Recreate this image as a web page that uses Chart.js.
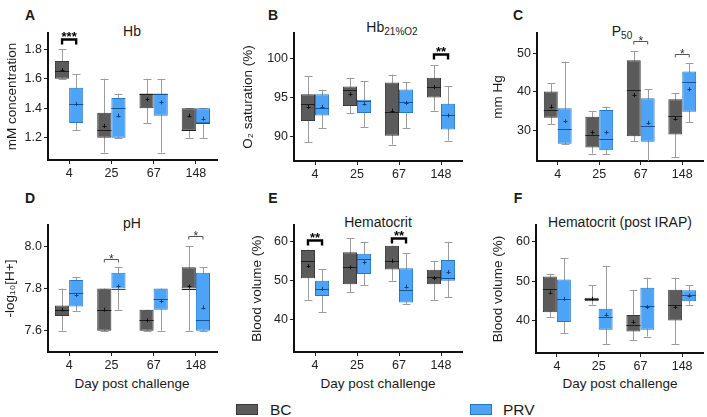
<!DOCTYPE html>
<html><head><meta charset="utf-8">
<script src="https://cdn.jsdelivr.net/npm/chart.js@4/dist/chart.umd.min.js"></script>
<style>
body{margin:0;width:707px;height:417px;background:#fff;position:relative;overflow:hidden;font-family:"Liberation Sans",Arial,sans-serif}
canvas.cv{position:absolute}
.t{position:absolute;transform:translate(-50%,-50%);white-space:nowrap;color:#1a1a1a}
.ttl{font-size:14px}
.lt{font-size:14px;font-weight:bold}
.xt{font-size:13.5px}
.lg{position:absolute;width:22px;height:11px;box-sizing:border-box}
.lgt{position:absolute;font-size:15.5px;color:#1a1a1a;transform:translateY(-50%)}
sub{font-size:10px;vertical-align:-3px}
</style></head><body>
<div class="t lt" style="left:30px;top:15px">A</div>
<div class="t lt" style="left:273px;top:15px">B</div>
<div class="t lt" style="left:518px;top:15px">C</div>
<div class="t lt" style="left:30px;top:198px">D</div>
<div class="t lt" style="left:273px;top:198px">E</div>
<div class="t lt" style="left:518px;top:198px">F</div>
<div class="t ttl" style="left:132px;top:31px">Hb</div>
<div class="t ttl" style="left:392px;top:28px">Hb<sub>21%O2</sub></div>
<div class="t ttl" style="left:622px;top:32px">P<sub>50</sub></div>
<div class="t ttl" style="left:132px;top:223px">pH</div>
<div class="t ttl" style="left:378px;top:222px">Hematocrit</div>
<div class="t ttl" style="left:620px;top:222px">Hematocrit (post IRAP)</div>
<div class="t xt" style="left:132px;top:383px">Day post challenge</div>
<div class="t xt" style="left:378px;top:383px">Day post challenge</div>
<div class="t xt" style="left:620px;top:383px">Day post challenge</div>
<div class="lg" style="left:236px;top:404px;background:#5b5b5b;border:1px solid #3a3a3a"></div>
<div class="lgt" style="left:270px;top:410px">BC</div>
<div class="lg" style="left:470px;top:404px;background:#4da3f5;border:1px solid #2a78c0"></div>
<div class="lgt" style="left:503px;top:410px">PRV</div>
<script>
// ---------- DATA ----------
const categories = ['4', '25', '67', '148'];
const seriesNames = ['BC', 'PRV'];
// each row: [min, q1, median, q3, max, mean]
const hbBC   = [[1.60,1.60,1.65,1.72,1.80,1.66],[1.10,1.20,1.25,1.37,1.60,1.28],[1.30,1.40,1.50,1.50,1.60,1.46],[1.20,1.25,1.25,1.40,1.40,1.35]];
const hbPRV  = [[1.25,1.30,1.43,1.54,1.63,1.43],[1.20,1.20,1.40,1.47,1.50,1.35],[1.10,1.35,1.50,1.50,1.60,1.44],[1.20,1.30,1.30,1.40,1.40,1.33]];
const satBC  = [[89.3,92.0,94.1,95.4,97.7,93.8],[93.0,93.9,95.9,96.4,97.5,95.4],[89.0,90.1,93.1,96.9,97.9,93.3],[93.3,95.0,96.3,97.5,99.1,96.3]];
const satPRV = [[91.1,92.7,93.6,95.4,96.0,93.8],[91.2,93.0,94.6,94.7,97.1,94.2],[91.1,93.0,94.4,96.0,96.9,94.3],[89.5,90.9,92.7,94.2,96.4,92.7]];
const p50BC  = [[31.5,33.2,35.2,40.0,42.2,36.1],[23.9,25.5,28.7,33.5,34.9,29.4],[27.1,28.4,40.4,48.1,50.5,39.1],[23.0,28.9,33.6,38.0,39.6,33.0]];
const p50PRV = [[26.3,26.5,30.2,35.7,47.8,32.3],[23.7,24.8,27.8,35.2,36.1,29.4],[18.0,27.0,31.0,38.3,40.6,31.9],[32.0,34.8,42.4,45.2,47.4,40.6]];
const phBC   = [[7.60,7.67,7.70,7.72,7.80,7.70],[7.60,7.60,7.70,7.80,7.80,7.70],[7.60,7.60,7.65,7.70,7.70,7.65],[7.60,7.80,7.80,7.90,8.00,7.81]];
const phPRV  = [[7.695,7.715,7.78,7.84,7.855,7.77],[7.70,7.80,7.80,7.875,7.90,7.81],[7.60,7.70,7.75,7.80,7.80,7.74],[7.60,7.60,7.65,7.875,7.90,7.71]];
const hctBC  = [[45.1,50.6,55.1,57.9,58.0,53.8],[47.0,49.1,53.4,57.3,61.0,53.4],[50.0,52.9,55.1,59.0,59.0,55.1],[45.1,49.1,50.9,52.8,55.1,50.6]];
const hctPRV = [[42.0,46.1,47.9,50.0,52.9,47.9],[48.9,51.7,55.5,56.9,60.0,54.7],[44.0,44.4,47.5,53.2,57.0,48.5],[45.8,50.0,50.6,55.3,60.0,52.2]];
const irapBC = [[40.9,42.1,47.9,51.2,51.9,47.1],[44.0,44.9,45.5,45.8,48.9,45.5],[34.9,37.2,38.9,41.4,47.8,39.6],[33.9,40.0,44.0,47.8,50.9,43.4]];
const irapPRV= [[36.8,39.6,45.5,50.4,55.9,45.5],[33.9,37.6,40.9,43.0,53.9,41.5],[35.9,37.6,43.6,48.3,50.9,43.4],[44.0,44.9,46.4,47.7,48.9,46.3]];
// tick labels
const hbTicks = [1.2, 1.4, 1.6, 1.8];
const satTicks = [90, 95, 100];
const p50Ticks = [30, 40, 50];
const phTicks = [7.6, 7.8, 8.0];
const hctTicks = [40, 50, 60];
const irapTicks = [40, 50, 60];
// significance brackets: [category index, value level, label]
const hbSig = [[0, 1.868, '***']];
const satSig = [[3, 100.5, '**']];
const p50Sig = [[2, 53.0, '*'], [3, 49.8, '*']];
const phSig = [[1, 7.94, '*'], [3, 8.047, '*']];
const hctSig = [[0, 60.4, '**'], [2, 61.0, '**']];
const irapSig = [];

// ---------- STYLE / LAYOUT ----------
const FONT = '"Liberation Sans", Arial, sans-serif';
const fills = ['#5b5b5b', '#4da3f5'];
const borders = ['#3a3a3a', '#2a78c0'];
const medCol = ['#1e1e1e', '#1b5490'];
const meanCol = ['#111111', '#123f70'];

const boxPlugin = {
  id: 'boxExtras',
  beforeDatasetsDraw(chart) {
    const o = chart.options.plugins.boxExtras;
    const ctx = chart.ctx, ys = chart.scales.y, ca = chart.chartArea;
    ctx.save();
    ctx.beginPath(); ctx.rect(ca.left, ca.top, ca.right - ca.left, ca.bottom - ca.top); ctx.clip();
    ctx.strokeStyle = '#9c9c9c'; ctx.lineWidth = 1;
    o.stats.forEach((st, di) => {
      chart.getDatasetMeta(di).data.forEach((el, i) => {
        const r = st[i]; const x = Math.round(el.x) + 0.5; const cw = el.width * 0.28;
        const yMin = ys.getPixelForValue(r[0]), yMax = ys.getPixelForValue(r[4]);
        ctx.beginPath();
        ctx.moveTo(x, yMin); ctx.lineTo(x, yMax);
        ctx.moveTo(x - cw, Math.round(yMin) + 0.5); ctx.lineTo(x + cw, Math.round(yMin) + 0.5);
        ctx.moveTo(x - cw, Math.round(yMax) + 0.5); ctx.lineTo(x + cw, Math.round(yMax) + 0.5);
        ctx.stroke();
      });
    });
    ctx.restore();
  },
  afterDatasetsDraw(chart) {
    const o = chart.options.plugins.boxExtras;
    const ctx = chart.ctx, ys = chart.scales.y;
    ctx.save();
    o.stats.forEach((st, di) => {
      chart.getDatasetMeta(di).data.forEach((el, i) => {
        const r = st[i]; const hw = el.width / 2;
        const ym = Math.round(ys.getPixelForValue(r[2])) + 0.5;
        ctx.strokeStyle = medCol[di]; ctx.lineWidth = 1;
        ctx.beginPath(); ctx.moveTo(el.x - hw, ym); ctx.lineTo(el.x + hw, ym); ctx.stroke();
        const yA = ys.getPixelForValue(r[5]); const xc = Math.round(el.x) + 0.5;
        ctx.strokeStyle = meanCol[di];
        ctx.beginPath();
        ctx.moveTo(xc - 2, Math.round(yA) + 0.5); ctx.lineTo(xc + 2, Math.round(yA) + 0.5);
        ctx.moveTo(xc, yA - 2); ctx.lineTo(xc, yA + 2);
        ctx.stroke();
      });
    });
    o.sig.forEach(s => {
      const a = chart.getDatasetMeta(0).data[s[0]], b = chart.getDatasetMeta(1).data[s[0]];
      const y = Math.round(ys.getPixelForValue(s[1])) + 0.5;
      const strong = s[2].length > 1;
      ctx.strokeStyle = strong ? '#000' : '#555';
      ctx.lineWidth = strong ? 2.4 : 1;
      const leg = strong ? 5 : 3;
      ctx.beginPath();
      ctx.moveTo(a.x, y + leg); ctx.lineTo(a.x, y); ctx.lineTo(b.x, y); ctx.lineTo(b.x, y + leg);
      ctx.stroke();
      ctx.fillStyle = strong ? '#000' : '#333';
      ctx.font = (strong ? 'bold 13px ' : '12px ') + FONT;
      ctx.textAlign = 'center'; ctx.textBaseline = 'alphabetic';
      ctx.fillText(s[2], (a.x + b.x) / 2, y + (strong ? 1 : 3));
    });
    ctx.restore();
  }
};

function makePanel(cfg) {
  const c = document.createElement('canvas');
  c.className = 'cv'; c.width = cfg.w; c.height = 190;
  c.style.left = cfg.left + 'px'; c.style.top = cfg.top + 'px';
  c.style.width = cfg.w + 'px'; c.style.height = '190px';
  document.body.appendChild(c);
  const ticks = cfg.ticks;
  const gridOpts = { display: true, drawOnChartArea: false, drawTicks: true, tickLength: 4, color: '#222', offset: false };
  new Chart(c, {
    type: 'bar',
    data: {
      labels: categories,
      datasets: [cfg.bc, cfg.prv].map((st, di) => ({
        label: seriesNames[di],
        data: st.map(r => [r[1], r[3]]),
        backgroundColor: fills[di], borderColor: borders[di], borderWidth: 1, borderSkipped: false,
        categoryPercentage: 0.67, barPercentage: 1.0
      }))
    },
    options: {
      responsive: false, animation: false, devicePixelRatio: 1,
      layout: { padding: { left: 0, right: cfg.pr, top: cfg.pt, bottom: cfg.pb } },
      plugins: { legend: { display: false }, tooltip: { enabled: false }, boxExtras: { stats: [cfg.bc, cfg.prv], sig: cfg.sig } },
      scales: {
        x: {
          type: 'category', offset: true,
          grid: gridOpts, border: { display: true, color: '#111', width: 2 },
          ticks: { font: { size: 12.5, family: FONT }, color: '#222', padding: 2, maxRotation: 0 },
          afterFit(s) { s.height = 25; }
        },
        y: {
          min: cfg.min, max: cfg.max,
          grid: gridOpts, border: { display: true, color: '#111', width: 2 },
          ticks: { font: { size: 12.5, family: FONT }, color: '#222', padding: 2,
                   callback: v => v.toFixed(cfg.dec) },
          afterBuildTicks(s) { s.ticks = ticks.map(v => ({ value: v })); },
          title: { display: true, text: cfg.title, color: '#1a1a1a', font: { size: 13.5, family: FONT },
                   padding: { top: cfg.tp, bottom: 0 } },
          afterFit(s) { s.width = cfg.yw; }
        }
      }
    },
    plugins: [boxPlugin]
  });
}

makePanel({ left: 0,   top: 0,   w: 235, yw: 48, pr: 18, pt: 33, pb: 5, min: 1.05, max: 1.91, dec: 1, ticks: hbTicks,  title: 'mM concentration',  tp: 4,  bc: hbBC,   prv: hbPRV,   sig: hbSig });
makePanel({ left: 235, top: 0,   w: 235, yw: 59, pr: 8,  pt: 33, pb: 4, min: 86.9, max: 103.2, dec: 0, ticks: satTicks, title: 'O\u2082 saturation (%)', tp: 5, bc: satBC, prv: satPRV, sig: satSig });
makePanel({ left: 470, top: 0,   w: 237, yw: 67, pr: 4,  pt: 33, pb: 4, min: 22.0, max: 55.2, dec: 0, ticks: p50Ticks, title: 'mm Hg',             tp: 20, bc: p50BC,  prv: p50PRV,  sig: p50Sig });
makePanel({ left: 0,   top: 190, w: 235, yw: 48, pr: 18, pt: 35, pb: 3, min: 7.50, max: 8.10, dec: 1, ticks: phTicks,  title: '-log\u2081\u2080[H+]', tp: 2, bc: phBC,   prv: phPRV,   sig: phSig });
makePanel({ left: 235, top: 190, w: 235, yw: 59, pr: 8,  pt: 35, pb: 3, min: 31.7, max: 64.3, dec: 0, ticks: hctTicks, title: 'Blood volume (%)',  tp: 14, bc: hctBC,  prv: hctPRV,  sig: hctSig });
makePanel({ left: 470, top: 190, w: 237, yw: 66, pr: 4,  pt: 35, pb: 2, min: 31.7, max: 64.3, dec: 0, ticks: irapTicks, title: 'Blood volume (%)', tp: 20, bc: irapBC, prv: irapPRV, sig: irapSig });
</script>
</body></html>
